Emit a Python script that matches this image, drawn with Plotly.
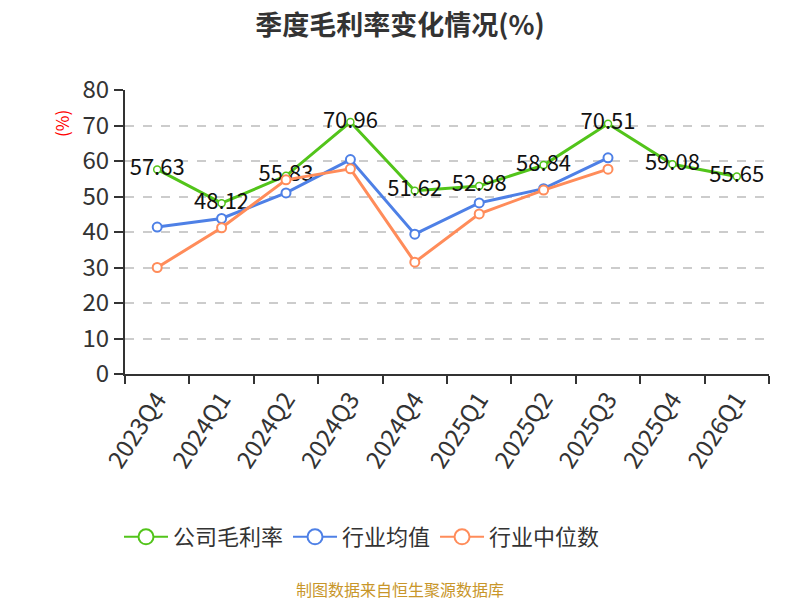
import plotly.graph_objects as go

# 季度毛利率数据 (%)
quarters = ["2023Q4", "2024Q1", "2024Q2", "2024Q3", "2024Q4",
            "2025Q1", "2025Q2", "2025Q3", "2025Q4", "2026Q1"]
company = [57.63, 48.12, 55.83, 70.96, 51.62, 52.98, 58.84, 70.51, 59.08, 55.65]
industry_mean = [41.4, 43.8, 51.0, 60.4, 39.4, 48.2, 52.2, 60.9, None, None]
industry_median = [30.0, 41.2, 54.7, 57.8, 31.5, 45.1, 51.8, 57.7, None, None]

series_names = ["公司毛利率", "行业均值", "行业中位数"]

GREEN = "#52c41a"
BLUE = "#4e80e6"
ORANGE = "#ff8c5a"
COLORS = [GREEN, BLUE, ORANGE]
FONT = "Noto Sans CJK SC"

# page body adds an 8px offset, so positions are given in screen pixels minus 8
OFF = 8
L, R, T, B = 125 - OFF, 769 - OFF, 90 - OFF, 374 - OFF
W, H = R - L, B - T

fig = go.Figure()

fig.add_trace(go.Scatter(
    x=quarters, y=company,
    mode="lines+markers+text",
    name=series_names[0], showlegend=False,
    line=dict(color=GREEN, width=3),
    marker=dict(size=7, color="white", line=dict(color=GREEN, width=1.5)),
    text=[f"{v:.2f}" for v in company],
    textposition="middle center",
    textfont=dict(size=22, color="#111"),
))

fig.add_trace(go.Scatter(
    x=quarters, y=industry_mean,
    mode="lines+markers",
    name=series_names[1], showlegend=False,
    line=dict(color=BLUE, width=3),
    marker=dict(size=9, color="white", line=dict(color=BLUE, width=2)),
))

fig.add_trace(go.Scatter(
    x=quarters, y=industry_median,
    mode="lines+markers",
    name=series_names[2], showlegend=False,
    line=dict(color=ORANGE, width=3),
    marker=dict(size=9, color="white", line=dict(color=ORANGE, width=2)),
))

# legend entries with larger open circles, as in the reference
for name, color in zip(series_names, COLORS):
    fig.add_trace(go.Scatter(
        x=[None], y=[None], mode="lines+markers", name=name,
        line=dict(color=color, width=2),
        marker=dict(size=15, color="white", line=dict(color=color, width=2)),
    ))

fig.update_layout(
    width=800, height=600,
    margin=dict(l=L, r=800 - R, t=T, b=600 - B, autoexpand=False),
    paper_bgcolor="white", plot_bgcolor="white",
    font=dict(family=FONT, color="#333"),
    title=dict(text="<b>季度毛利率变化情况(%)</b>", x=(400 - OFF) / 800, xanchor="center",
               y=1 - (26 - OFF) / 600, yanchor="middle",
               font=dict(size=27, color="#333")),
    showlegend=True,
    legend=dict(orientation="h", x=(362 - OFF - L) / W, xanchor="center",
                y=(B - (537 - OFF)) / H, yanchor="middle",
                font=dict(size=22, color="#333"),
                traceorder="normal", itemwidth=44),
    xaxis=dict(type="category", tickson="boundaries", automargin=False,
               showline=True, linecolor="#333", linewidth=2,
               ticks="outside", ticklen=8, tickcolor="#333", tickwidth=2,
               tickangle=-57, tickfont=dict(size=24, color="#333"),
               showgrid=False, range=[-0.5, 9.5]),
    yaxis=dict(range=[0, 80], dtick=10, tick0=0, automargin=False,
               showline=True, linecolor="#333", linewidth=2,
               ticks="outside", ticklen=9, tickcolor="#333", tickwidth=2,
               tickfont=dict(size=24, color="#333"),
               showgrid=True, gridcolor="#cccccc", griddash="dash", gridwidth=1.5,
               zeroline=False),
)

fig.add_annotation(text="(%)", textangle=-90, xref="paper", yref="paper",
                   x=(62 - OFF - L) / W, y=(B - (124 - OFF)) / H,
                   xanchor="center", yanchor="middle", showarrow=False,
                   font=dict(size=17, color="red"))

fig.add_annotation(text="制图数据来自恒生聚源数据库", xref="paper", yref="paper",
                   x=(400 - OFF - L) / W, y=(B - (589 - OFF)) / H,
                   xanchor="center", yanchor="middle", showarrow=False,
                   font=dict(size=16, color="#c8962a"))

fig.write_html("out.html")
